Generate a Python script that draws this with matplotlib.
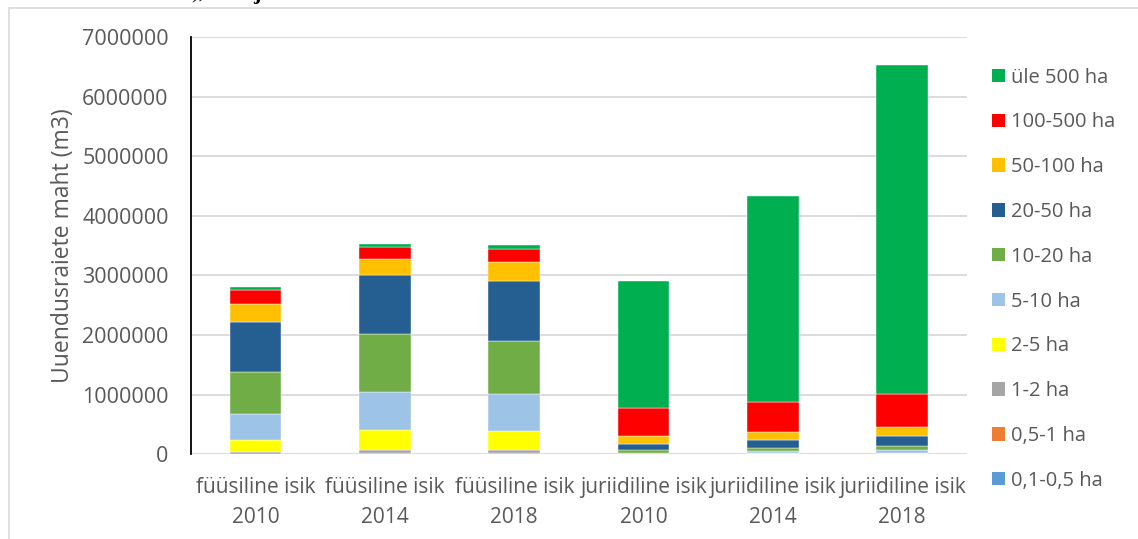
import numpy as np
import matplotlib.pyplot as plt
from matplotlib.patches import Patch, Rectangle

# categories on x axis
categories = ['füüsiline isik\n2010', 'füüsiline isik\n2014', 'füüsiline isik\n2018',
              'juriidiline isik\n2010', 'juriidiline isik\n2014', 'juriidiline isik\n2018']

# size classes, bottom to top of each stack
classes = ['0,1-0,5 ha', '0,5-1 ha', '1-2 ha', '2-5 ha', '5-10 ha',
           '10-20 ha', '20-50 ha', '50-100 ha', '100-500 ha', 'üle 500 ha']

# volumes (m3) per size class, one value per category
ha_01_05 = [3000, 5000, 5000, 2000, 2000, 3000]
ha_05_1 = [6000, 12000, 12000, 1000, 2000, 2000]
ha_1_2 = [25000, 55000, 55000, 2000, 3000, 4000]
ha_2_5 = [211000, 328000, 318000, 8000, 10000, 18000]
ha_5_10 = [431000, 645000, 627000, 17000, 33000, 45000]
ha_10_20 = [700000, 968000, 883000, 38000, 50000, 72000]
ha_20_50 = [844000, 990000, 1008000, 113000, 145000, 163000]
ha_50_100 = [307000, 279000, 312000, 134000, 129000, 151000]
ha_100_500 = [235000, 191000, 220000, 470000, 503000, 559000]
ha_over_500 = [38000, 61000, 67000, 2123000, 3452000, 5515000]

series = [ha_01_05, ha_05_1, ha_1_2, ha_2_5, ha_5_10,
          ha_10_20, ha_20_50, ha_50_100, ha_100_500, ha_over_500]
colors = ['#5B9BD5', '#ED7D31', '#A5A5A5', '#FFFF00', '#9DC3E6',
          '#70AD47', '#255E91', '#FFC000', '#FF0000', '#00B050']

plt.rcParams['font.family'] = ['Open Sans', 'DejaVu Sans']
text_color = '#595959'

fig = plt.figure(figsize=(11.38, 5.39), dpi=100)
ax = fig.add_axes([0.1678, 0.1571, 0.6819, 0.7743])

# light frame around the chart area
fig.patches.append(Rectangle((9 / 1138, -0.1), 1.2, (539 - 8) / 539 + 0.1,
                             transform=fig.transFigure, fill=False,
                             edgecolor='#d9d9d9', linewidth=1.2))

x = np.arange(len(categories))
bottom = np.zeros(len(categories))
for vals, col, lab in zip(series, colors, classes):
    ax.bar(x, vals, width=0.4, bottom=bottom, color=col, label=lab,
           edgecolor='white', linewidth=0.3, zorder=3)
    bottom += np.array(vals)

ax.set_xlim(-0.5, len(categories) - 0.5)
ax.set_ylim(0, 7000000)
ax.set_yticks(np.arange(0, 7000001, 1000000))
ax.yaxis.set_major_formatter(plt.FuncFormatter(lambda v, p: f'{int(v)}'))
ax.set_xticks(x)
ax.set_xticklabels(categories, fontsize=15, color=text_color, linespacing=1.62)
ax.tick_params(axis='y', labelsize=15.5, colors=text_color, length=0, pad=16)
ax.tick_params(axis='x', length=0, pad=16)

ax.grid(axis='y', color='#d9d9d9', linewidth=1.3, zorder=0)
ax.set_axisbelow(True)
for s in ['top', 'right', 'bottom']:
    ax.spines[s].set_visible(False)
ax.spines['left'].set_color('black')
ax.spines['left'].set_linewidth(1.3)

ax.set_ylabel('Uuendusraiete maht (m3)', fontsize=16.5, color=text_color, labelpad=5)

handles = [Patch(facecolor=c, label=l) for c, l in zip(colors, classes)][::-1]
fig.legend(handles=handles, loc='upper left', bbox_to_anchor=(0.856, 0.908),
           frameon=False, fontsize=14.5, labelcolor=text_color,
           handlelength=0.65, handleheight=0.65, handletextpad=0.3,
           labelspacing=1.23)

# cut-off text from the page above the chart
fig.text(0.168, 1.012, '),', fontsize=16, family='Liberation Serif',
         va='center', color='black')
fig.text(0.222, 1.012, 'j', fontsize=16, family='Liberation Serif',
         weight='bold', va='center', color='black')

fig.savefig('out.png', dpi=100)
